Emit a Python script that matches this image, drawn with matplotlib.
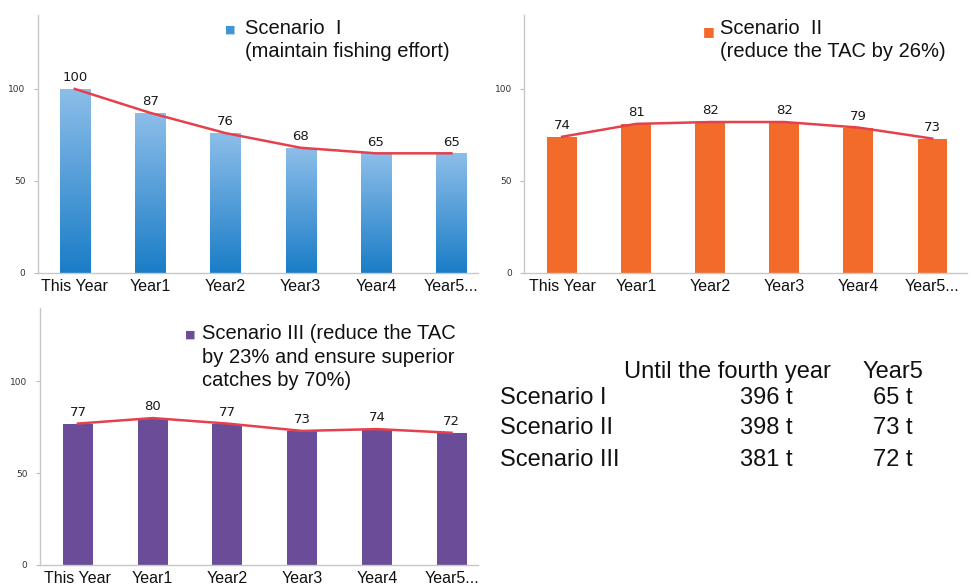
import numpy as np
import matplotlib
matplotlib.use("Agg")
import matplotlib.pyplot as plt

# data
years = ["This Year", "Year1", "Year2", "Year3", "Year4", "Year5..."]
scenario_1 = [100, 87, 76, 68, 65, 65]
scenario_2 = [74, 81, 82, 82, 79, 73]
scenario_3 = [77, 80, 77, 73, 74, 72]

legend_1 = "Scenario  I\n(maintain fishing effort)"
legend_2 = "Scenario  II\n(reduce the TAC by 26%)"
legend_3 = "Scenario III (reduce the TAC\nby 23% and ensure superior\ncatches by 70%)"

table_header = ["Until the fourth year", "Year5"]
table_rows = ["Scenario I", "Scenario II", "Scenario III"]
table_until4 = ["396 t", "398 t", "381 t"]
table_year5 = ["65 t", "73 t", "72 t"]

narrow = ["Liberation Sans Narrow", "Liberation Sans", "DejaVu Sans"]
line_red = "#e5414d"


def draw_panel(ax, values, color, xlim, gradient=False):
    x = np.arange(len(values))
    bars = ax.bar(x, values, width=0.4, color=color, zorder=2)
    if gradient:
        # light top, darker bottom
        grad = np.linspace(0, 1, 256).reshape(-1, 1)
        cmap = matplotlib.colors.LinearSegmentedColormap.from_list(
            "g", ["#1a7dc7", "#8dbee9"])
        for b in bars:
            b.set_facecolor("none")
            x0, y0 = b.get_x(), b.get_y()
            w, h = b.get_width(), b.get_height()
            im = ax.imshow(grad, extent=[x0, x0 + w, y0, y0 + h],
                           cmap=cmap, aspect="auto", origin="lower", zorder=2)
            im.set_clip_path(b)
    ax.plot(x, values, color=line_red, lw=1.8, zorder=3)
    for xi, v in zip(x, values):
        ax.text(xi, v + 2.5, str(v), ha="center", va="bottom", fontsize=9.5,
                color="#1a1a1a", zorder=4)
    ax.set_xlim(*xlim)
    ax.set_ylim(0, 140)
    ax.set_yticks([0, 50, 100])
    ax.set_xticks(x)
    ax.set_xticklabels(years, family=narrow, fontsize=11.5, color="#111111")
    ax.tick_params(axis="y", labelsize=6.5, length=3, color="#bbbbbb",
                   labelcolor="#333333", pad=6)
    ax.tick_params(axis="x", length=0, pad=4)
    for s in ["top", "right"]:
        ax.spines[s].set_visible(False)
    for s in ["left", "bottom"]:
        ax.spines[s].set_color("#c8c8c8")
        ax.spines[s].set_linewidth(1.0)
    ax.set_facecolor("white")


fig = plt.figure(figsize=(9.71, 5.87), dpi=100)

ax1 = fig.add_axes([0.039, 0.535, 0.453, 0.439])
ax2 = fig.add_axes([0.540, 0.535, 0.456, 0.439])
ax3 = fig.add_axes([0.041, 0.0375, 0.451, 0.438])

draw_panel(ax1, scenario_1, "#3f95d8", (-0.49, 5.35), gradient=True)
draw_panel(ax2, scenario_2, "#f26b2b", (-0.51, 5.47))
draw_panel(ax3, scenario_3, "#6b4c99", (-0.51, 5.35))

# legends drawn as marker + text
leg_font = dict(family=narrow, fontsize=14.5, color="#111111", va="top",
                linespacing=1.3)
fig.text(0.232, 0.958, "■", color="#3f95d8", fontsize=8, va="top")
fig.text(0.252, 0.968, legend_1, **leg_font)
fig.text(0.724, 0.958, "■", color="#f26b2b", fontsize=9, va="top")
fig.text(0.742, 0.968, legend_2, **leg_font)
fig.text(0.190, 0.438, "■", color="#6b4c99", fontsize=8, va="top")
fig.text(0.208, 0.448, legend_3, **leg_font)

# summary table on the right
tab_font = dict(family=narrow, fontsize=17, color="#111111", va="center")
fig.text(0.643, 0.367, table_header[0], ha="left", **tab_font)
fig.text(0.888, 0.367, table_header[1], ha="left", **tab_font)
row_y = [0.322, 0.271, 0.217]
for name, a, b, y in zip(table_rows, table_until4, table_year5, row_y):
    fig.text(0.515, y, name, ha="left", **tab_font)
    fig.text(0.789, y, a, ha="center", **tab_font)
    fig.text(0.919, y, b, ha="center", **tab_font)

fig.savefig("out.png", dpi=100, facecolor="white")
